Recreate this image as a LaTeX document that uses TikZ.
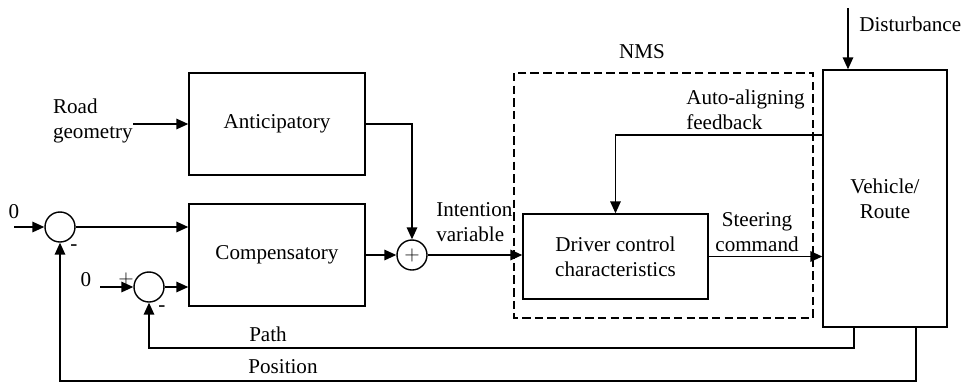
\documentclass[tikz,border=0pt]{standalone}
\usepackage{fontspec}
\setmainfont{Liberation Serif}
\usetikzlibrary{arrows.meta}

\tikzset{
	blk/.style={draw, line width=1pt, align=center, inner sep=0pt},
	sumnode/.style={draw, circle, line width=1pt, minimum size=0.75cm, inner sep=0pt},
	arr/.style={line width=1pt, -{Triangle[length=8.5pt,width=7.5pt]}},
	ln/.style={line width=1pt},
	lbl/.style={inner sep=0pt, align=left}
}

\begin{document}
\begin{tikzpicture}[x=0.025cm, y=-0.025cm, font=\fontsize{15}{18}\selectfont]
			%%%%% START %%%%%
			\useasboundingbox (0, 0) rectangle (968, 383);
			
			% blocks
			\node[blk, minimum width=4.4cm, minimum height=2.55cm] (ant) at (277, 124) {Anticipatory};
			\node[blk, minimum width=4.4cm, minimum height=2.55cm] (comp) at (277, 255) {Compensatory};
			\node[blk, minimum width=4.625cm, minimum height=2.125cm] (drv) at (615.5, 256.5) {Driver control\\characteristics};
			\node[blk, minimum width=3.1cm, minimum height=6.425cm] (veh) at (885, 198.5) {Vehicle/\\Route};
			
			% NMS frame
			\draw[ln, dashed, dash pattern=on 6pt off 3pt] (514, 73) rectangle (813, 318);
			\node (nms) at (642, 52) {NMS};
			
			% summing points
			\node[sumnode] (s1) at (60, 227) {};
			\node[sumnode] (s2) at (149, 287) {};
			\node[sumnode] (s3) at (412, 255) {$+$};
			
			% free ends
			\coordinate (road) at (133, 124);
			\coordinate (zeroa) at (14, 227);
			\coordinate (zerob) at (100, 287);
			\coordinate (dist) at (848, 8);
			\coordinate (fbturn) at (615.5, 135);
			\coordinate (pathx) at (854, 348);
			\coordinate (posx) at (916, 381);
			
			% connectors
			\draw[arr] (road) -- (ant.west);
			\draw[arr] (ant.east) -| (s3.north);
			\draw[arr] (comp.east) -- (s3.west);
			\draw[arr] (s3.east) -- (s3.east -| drv.west);
			\draw[arr] (zeroa) -- (s1.west);
			\draw[arr] (s1.east) -- (s1.east -| comp.west);
			\draw[arr] (zerob) -- (s2.west);
			\draw[arr] (s2.east) -- (s2.east -| comp.west);
			\draw[arr] (drv.east) -- (drv.east -| veh.west);
			\draw[arr] (veh.west |- fbturn) -- (fbturn) -- (drv.north);
			\draw[arr] (dist) -- (dist |- veh.north);
			\draw[arr] (veh.south -| pathx) -- (pathx) -| (s2.south);
			\draw[arr] (veh.south -| posx) -- (posx) -| (s1.south);
			
			% labels
			\node[lbl, anchor=east] (roadlbl) at (133, 121) {Road\\geometry};
			\node[lbl, anchor=west] (intlbl) at (436, 222) {Intention\\variable};
			\node[lbl, anchor=west] (fblbl) at (686, 110) {Auto-aligning\\feedback};
			\node[align=center, inner sep=0pt] (steerlbl) at (757, 232) {Steering\\command};
			\node[lbl, anchor=west] (distlbl) at (859, 24) {Disturbance};
			\node (pathlbl) at (268, 334) {Path};
			\node (poslbl) at (283, 367) {Position};
			\node (zalbl) at (14, 212) {0};
			\node (zblbl) at (86, 280) {0};
			\node (plbl) at (126, 279) {$+$};
			\node (mlbla) at (74, 248) {-};
			\node (mlblb) at (162, 309) {-};
			
			%%%%% END %%%%%
\end{tikzpicture}
\end{document}
